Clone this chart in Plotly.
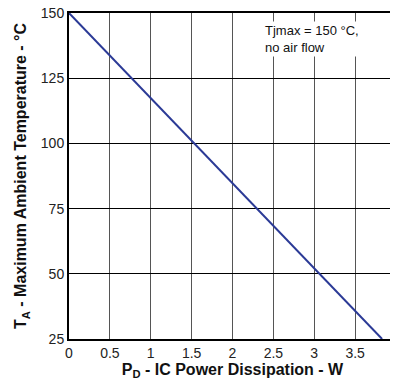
import plotly.graph_objects as go

# derating line: junction max 150 C, no air flow
pd_w = [0, 3.83]
ta_c = [150, 25]

x_ticks = [0, 0.5, 1, 1.5, 2, 2.5, 3, 3.5, 4]
x_labels = ["0", "0.5", "1", "1.5", "2", "2.5", "3", "3.5", "4"]
y_ticks = [25, 50, 75, 100, 125, 150]

note = "Tjmax = 150 °C,<br>no air flow"

fig = go.Figure()
fig.add_trace(go.Scatter(x=pd_w, y=ta_c, mode="lines",
                         line=dict(color="#2b3a96", width=2), showlegend=False))

fig.add_annotation(x=2.37, y=147, xref="x", yref="y", text=note, showarrow=False,
                   xanchor="left", yanchor="top", align="left",
                   bgcolor="white", font=dict(size=13, color="#111"))

fig.update_xaxes(range=[0, 4], tickvals=x_ticks, ticktext=x_labels,
                 showgrid=True, gridcolor="#555", gridwidth=1,
                 showline=True, linecolor="black", linewidth=2, mirror=True,
                 ticks="", tickfont=dict(size=14, color="#222"),
                 ticklabeloverflow="allow",
                 title=dict(text="<b>P<sub>D</sub> - IC Power Dissipation - W</b>",
                            font=dict(size=16, color="#111"), standoff=0),
                 zeroline=False, automargin=False)
fig.update_yaxes(range=[25, 150], tickvals=y_ticks,
                 showgrid=True, gridcolor="black", gridwidth=1,
                 showline=True, linecolor="black", linewidth=2, mirror=True,
                 ticks="", tickfont=dict(size=14, color="#222"),
                 ticklabeloverflow="allow",
                 title=dict(text="<b>T<sub>A</sub> - Maximum Ambient Temperature - °C</b>",
                            font=dict(size=16, color="#111"), standoff=10),
                 zeroline=False, automargin=False)

# page body has an 8px margin, so the figure is sized to fit inside the window
fig.update_layout(width=390, height=377,
                  margin=dict(l=61, r=2, t=5, b=46),
                  plot_bgcolor="white", paper_bgcolor="white",
                  font=dict(family="Liberation Sans, Arial, sans-serif"))

fig.write_html("out.html")
